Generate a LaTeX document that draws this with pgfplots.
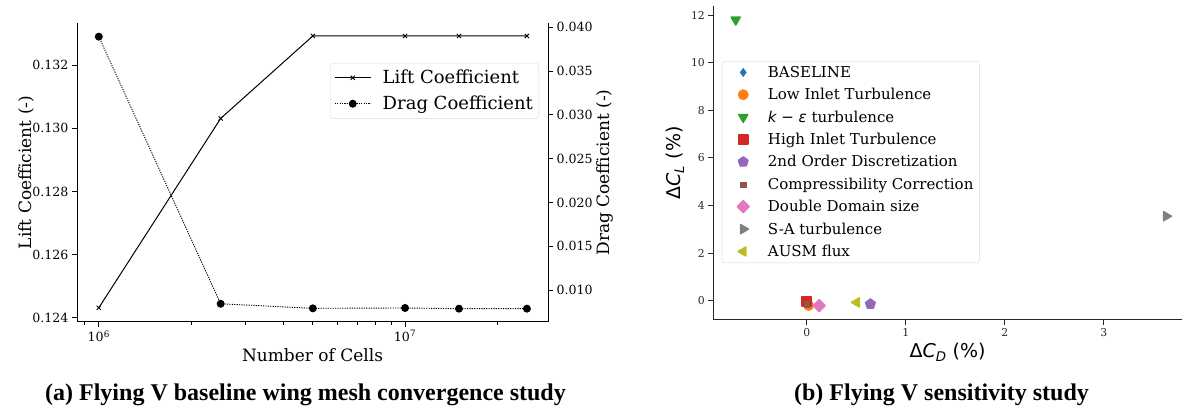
\documentclass[border=0pt]{standalone}
\usepackage{fontspec}
\setmainfont{DejaVu Serif}
\newfontfamily\dvsans{DejaVu Sans}
\newfontfamily\capfont{Liberation Serif}
\usepackage{pgfplots}
\usepackage{pgfplotstable}
\pgfplotsset{compat=1.18}
\definecolor{c0}{HTML}{1F77B4}
\definecolor{c1}{HTML}{FF7F0E}
\definecolor{c2}{HTML}{2CA02C}
\definecolor{c3}{HTML}{D62728}
\definecolor{c4}{HTML}{9467BD}
\definecolor{c5}{HTML}{8C564B}
\definecolor{c6}{HTML}{E377C2}
\definecolor{c7}{HTML}{7F7F7F}
\definecolor{c8}{HTML}{BCBD22}
\definecolor{spine}{HTML}{262626}

\pgfplotstableread{
cells lift drag
1e6 0.12432 0.03893
2.5e6 0.13031 0.00843
5e6 0.13292 0.00791
1e7 0.13292 0.00795
1.5e7 0.13292 0.00787
2.5e7 0.13292 0.00787
}\convdata

\newcommand{\tickfont}{\fontsize{12.6}{14}\selectfont}
\newcommand{\labfont}{\fontsize{17}{19}\selectfont}

\begin{document}
\begin{tikzpicture}
\path[use as bounding box] (0pt,0pt) rectangle (1183pt,411pt);

% ---------- (a) left: lift ----------
\begin{axis}[
  at={(77pt,89pt)}, anchor=south west, scale only axis,
  width=471pt, height=299pt,
  xmode=log, xmin=8.49e5, xmax=2.93e7,
  ymin=0.12387, ymax=0.13333,
  axis x line*=bottom, axis y line*=left,
  axis line style={line width=1pt},
  tick align=outside,
  major tick length=5pt, minor tick length=3pt,
  tick style={black, line width=0.8pt},
  xtick={1e6,1e7}, xticklabels={10\textsuperscript{6},10\textsuperscript{7}},
  minor xtick={9e5,2e6,3e6,4e6,5e6,6e6,7e6,8e6,9e6,2e7},
  ytick={0.124,0.126,0.128,0.130,0.132},
  yticklabels={0.124,0.126,0.128,0.130,0.132},
  ticklabel style={font=\tickfont},
  xlabel={Number of Cells}, ylabel={Lift Coefficient (-)},
  label style={font=\labfont},
  ylabel style={yshift=-9pt},
  clip=false,
]
\addplot[black, line width=1pt, mark=x, mark size=3pt, mark options={line width=0.9pt}] table[x=cells,y=lift] {\convdata};
\end{axis}

% ---------- (a) right: drag ----------
\begin{axis}[
  at={(77pt,89pt)}, anchor=south west, scale only axis,
  width=471pt, height=299pt,
  xmode=log, xmin=8.49e5, xmax=2.93e7,
  ymin=0.00635, ymax=0.04049,
  hide x axis,
  axis y line*=right,
  axis line style={line width=1pt},
  tick align=outside,
  major tick length=5pt,
  tick style={black, line width=0.8pt},
  scaled y ticks=false,
  ytick={0.010,0.015,0.020,0.025,0.030,0.035,0.040},
  yticklabels={0.010,0.015,0.020,0.025,0.030,0.035,0.040},
  ticklabel style={font=\tickfont},
  ylabel={Drag Coefficient (-)},
  label style={font=\labfont},
  ylabel style={yshift=3pt},
  legend style={at={(0.981,0.866)}, anchor=north east,
    font=\fontsize{18}{20}\selectfont, draw=black!15, rounded corners=3pt,
    inner xsep=4pt, inner ysep=5pt, row sep=6.7pt},
  legend cell align=left,
  legend image code/.code={\draw[mark repeat=2,mark phase=2] plot coordinates {(0pt,0pt) (18pt,0pt) (36pt,0pt)}; \path[draw=none] (46pt,0pt);},
  clip=false,
]
\addlegendimage{black, line width=1pt, mark=x, mark size=3pt, mark options={line width=0.9pt}}
\addlegendentry{Lift Coefficient}
\addplot[black, line width=0.9pt, dash pattern=on 1.2pt off 1.2pt, mark=*, mark size=3.5pt, mark options={solid}] table[x=cells,y=drag] {\convdata};
\addlegendentry{Drag Coefficient}
\end{axis}

% ---------- (b) sensitivity ----------
\begin{axis}[
  at={(713.3pt,91pt)}, anchor=south west, scale only axis,
  width=468.7pt, height=314pt,
  xmin=-0.943, xmax=3.79, ymin=-0.81, ymax=12.38,
  axis x line*=bottom, axis y line*=left,
  axis line style={spine, line width=1pt},
  tick align=outside, major tick length=5pt,
  tick style={spine, line width=0.8pt},
  xtick={0,1,2,3}, ytick={0,2,4,6,8,10,12},
  /pgf/number format/assume math mode=true,
  ticklabel style={font=\fontsize{10.8}{12}\selectfont, text=spine},
  xlabel={\dvsans Δ\textit{C}\textsubscript{\textit{D}} (\%)},
  ylabel={\dvsans Δ\textit{C}\textsubscript{\textit{L}} (\%)},
  label style={font=\fontsize{19}{21}\selectfont},
  legend style={at={(0.018,0.825)}, anchor=north west,
    font=\fontsize{15}{17}\selectfont, draw=black!15, rounded corners=3pt,
    inner xsep=4pt, inner ysep=3pt, row sep=5.5pt},
  legend cell align=left,
  legend image code/.code={\path[draw=none,fill=none] (5pt,0pt) (45pt,0pt); \draw plot coordinates {(22.3pt,0pt)};},
  clip=false,
]
\addplot[only marks, mark=diamond*, mark size=4.2pt, color=c0] coordinates {(0,0)};
\addlegendentry{BASELINE}
\addplot[only marks, mark=*, mark size=5.2pt, color=c1] coordinates {(0.02,-0.2)};
\addlegendentry{Low Inlet Turbulence}
\addplot[only marks, mark=triangle*, mark size=5.2pt, color=c2, mark options={rotate=180, line join=round, line width=1.5pt}] coordinates {(-0.717,11.8)};
\addlegendentry{{\dvsans\itshape k} {\dvsans −} {\dvsans\itshape ε} turbulence}
\addplot[only marks, mark=square*, mark size=4.6pt, color=c3, mark options={line join=round, line width=1.5pt}] coordinates {(0.0,-0.03)};
\addlegendentry{High Inlet Turbulence}
\addplot[only marks, mark=pentagon*, mark size=5pt, color=c4, mark options={line join=round, line width=1.5pt}] coordinates {(0.643,-0.14)};
\addlegendentry{2nd Order Discretization}
\addplot[only marks, mark=square*, mark size=2.6pt, color=c5] coordinates {(0.0,-0.15)};
\addlegendentry{Compressibility Correction}
\addplot[only marks, mark=square*, mark size=4.2pt, color=c6, mark options={rotate=45, line join=round, line width=1.5pt}] coordinates {(0.127,-0.21)};
\addlegendentry{Double Domain size}
\addplot[only marks, mark=triangle*, mark size=5.2pt, color=c7, mark options={rotate=-90, line join=round, line width=1.5pt}] coordinates {(3.63,3.55)};
\addlegendentry{S-A turbulence}
\addplot[only marks, mark=triangle*, mark size=5.2pt, color=c8, mark options={rotate=90, line join=round, line width=1.5pt}] coordinates {(0.505,-0.07)};
\addlegendentry{AUSM flux}
\end{axis}

% ---------- captions ----------
\node[anchor=base, font=\capfont\bfseries\fontsize{24}{26}\selectfont] at (305.5pt,10pt) {(a) Flying V baseline wing mesh convergence study};
\node[anchor=base, font=\capfont\bfseries\fontsize{24}{26}\selectfont] at (941.5pt,10pt) {(b) Flying V sensitivity study};
\end{tikzpicture}
\end{document}
